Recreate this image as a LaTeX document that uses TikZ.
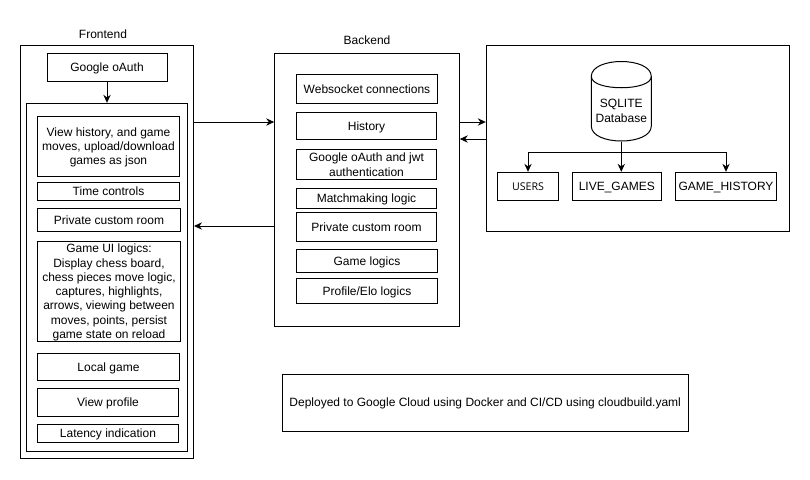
\documentclass[tikz,border=0pt]{standalone}
\usepackage{fontspec}
\setmainfont{Liberation Sans}
\newfontfamily\usersfont{Open Sans}
\usetikzlibrary{positioning,arrows.meta}

\begin{document}
\begin{tikzpicture}[
x=0.75pt,y=-0.75pt,
line width=0.75pt,
every node/.style={font=\fontsize{9}{10.7}\selectfont,inner sep=0pt,align=center,text depth=0pt},
box/.style 2 args={draw,minimum width=#1*0.75pt,minimum height=#2*0.75pt},
conn/.style={-{Stealth[length=6pt,width=5.5pt]}},
]
	\useasboundingbox (0,0) rectangle (810,479);
	\node (frontendlabel) at (103,34) {Frontend};
	\node (backendlabel) at (367,40) {Backend};

	% frontend
	\node[box={173}{413}] (frontend) at (107,251.5) {};
	\node[box={120}{28}] (oauth) at (107,67.3) {Google oAuth};
	\node[box={161}{348}] (inner) at (107.3,277.3) {};
	\node[box={142}{60}] (history) at (108.5,146.3) {View history, and game\\moves, upload/download\\games as json};
	\node[box={142}{18}] (time) at (108.5,191.3) {Time controls};
	\node[box={143}{23}] (room) at (109,219.8) {Private custom room};
	\node[box={143}{100}] (ui) at (109,291.3) {Game UI logics:\\Display chess board,\\chess pieces move logic,\\captures, highlights,\\arrows, viewing between\\moves, points, persist\\game state on reload};
	\node[box={142}{27}] (local) at (108.5,366.8) {Local game};
	\node[box={141}{28}] (profile) at (108,402.3) {View profile};
	\node[box={141}{18}] (latency) at (108,433.3) {Latency indication};

	% backend
	\node[box={184.6}{273}] (backend) at (367,190.2) {};
	\node[box={141.4}{29}] (socket) at (367,88.8) {Websocket connections};
	\node[box={140.4}{27}] (bhistory) at (366.5,125.8) {History};
	\node[box={140.4}{30}] (jwt) at (366.5,164.3) {Google oAuth and jwt\\[0.4pt]authentication};
	\node[box={140.4}{20}] (match) at (366.5,198.3) {Matchmaking logic};
	\node[box={140.4}{29}] (broom) at (366.5,226.8) {Private custom room};
	\node[box={141.4}{23}] (logic) at (367,260.8) {Game logics};
	\node[box={141.4}{25}] (elo) at (367,290.8) {Profile/Elo logics};

	% database
	\node[box={303.4}{185.7}] (db) at (638,138.2) {};
	\node[minimum width=60*0.75pt,minimum height=79.5*0.75pt] (sqlite) at (621.3,101.3) {};
	\draw (591.3,76.5) .. controls (591.3,56.5) and (651.3,56.5) .. (651.3,76.5) -- (651.3,126)
		.. controls (651.3,146) and (591.3,146) .. (591.3,126) -- cycle;
	\draw (591.3,76.5) .. controls (591.3,91.5) and (651.3,91.5) .. (651.3,76.5);
	\node (sqlitetext) at (621.3,110.5) {SQLITE\\[0.8pt]Database};
	\node[box={61.4}{28.4}] (users) at (528,186.5) {\usersfont\fontsize{8}{10}\selectfont USERS};
	\node[box={89}{28.4}] (live) at (616.8,186.5) {LIVE\_GAMES};
	\node[box={101.4}{28.4}] (past) at (726,186.5) {GAME\_HISTORY};

	\node[box={405.6}{57}] (deploy) at (485.2,402.5) {Deployed to Google Cloud using Docker and CI/CD using cloudbuild.yaml};

	\draw[conn] (oauth.south) -- (oauth.south |- inner.north);
	\draw[conn] (frontend.east |- 0,122) -- (backend.west |- 0,122);
	\draw[conn] (backend.west |- 0,226) -- (frontend.east |- 0,226);
	\draw[conn] (backend.east |- 0,122) -- (db.west |- 0,122);
	\draw[conn] (db.west |- 0,139) -- (backend.east |- 0,139);
	\draw[conn] (sqlite.south) -- (sqlite.south |- live.north);
	\draw[conn] (sqlite.south) -- ++(0,11.2) -| (users.north);
	\draw[conn] (sqlite.south) -- ++(0,11.2) -| (past.north);
\end{tikzpicture}
\end{document}
